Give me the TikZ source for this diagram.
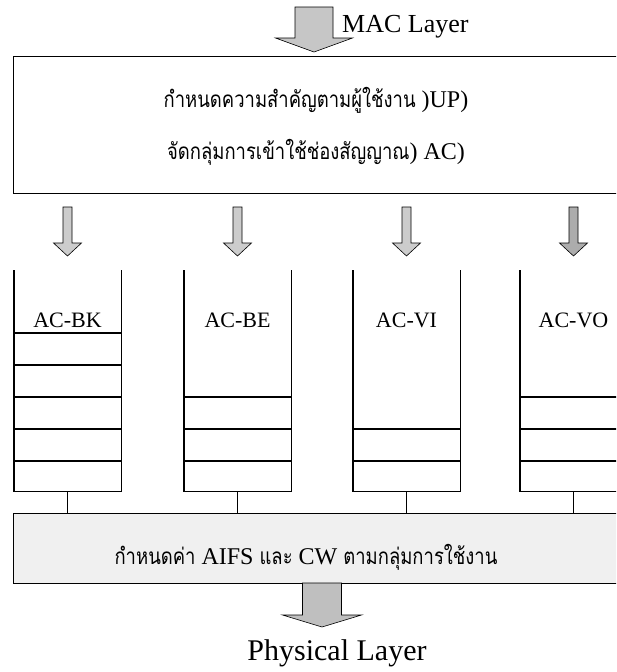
\documentclass[tikz,border=0pt]{standalone}
\usepackage{fontspec}
\setmainfont{Liberation Serif}
\newfontfamily\thaifont[Script=Thai,FakeStretch=0.82]{Loma}
\newcommand\thtxt[1]{{\fontsize{22.5}{24}\selectfont\thaifont #1}}
\newcommand\blkarrow[7]{% cx, ytop, shaft half-width, head half-width, yhead, ytip, fill
  \filldraw[blk, fill=#7] (#1-#3,#2) -- (#1+#3,#2) -- (#1+#3,#5) -- (#1+#4,#5) -- (#1,#6) -- (#1-#4,#5) -- (#1-#3,#5) -- cycle;}
\begin{document}
\begin{tikzpicture}[x=1pt,y=-1pt,
  frame/.style={line width=1.4pt},
  blk/.style={draw=black, line width=0.6pt},
  lbl/.style={font=\fontsize{22}{24}\selectfont, inner sep=0pt},
  thaitxt/.style={font=\fontsize{24}{26}\selectfont, inner sep=0pt},
]
\clip (0,0) rectangle (616,672);
\fill[white] (0,0) rectangle (616,672);

% top arrow and label
\blkarrow{314}{7}{19}{38.5}{38}{52}{gray!45}
\node[anchor=base west, font=\fontsize{26}{28}\selectfont, inner sep=0pt] (mac) at (342,32) {MAC Layer};

% top box
\node[draw, frame, anchor=north west, minimum width=612pt, minimum height=137pt, inner sep=0pt] (upbox) at (13,56) {};
\node[thaitxt] (up) at (316,100) {\thtxt{กำหนดความสำคัญตามผู้ใช้งาน} )UP)};
\node[thaitxt] (ac) at (316,152) {\thtxt{จัดกลุ่มการเข้าใช้ช่องสัญญาณ}) AC)};

% bottom box
\node[draw, frame, fill=gray!12, anchor=north west, minimum width=612pt, minimum height=70pt, inner sep=0pt] (bus) at (13,513) {};
\node[thaitxt] (bustxt) at (306,557) {\thtxt{กำหนดค่า} AIFS \thtxt{และ} CW \thtxt{ตามกลุ่มการใช้งาน}};

% queues
\foreach \n/\cx/\lab/\fc/\lines in {1/67.5/AC-BK/gray!40/{333,365,397,429,461},
                                    2/237.5/AC-BE/gray!40/{397,429,461},
                                    3/406.5/AC-VI/gray!40/{429,461},
                                    4/573.5/AC-VO/gray!65/{397,429,461}} {
  \blkarrow{\cx}{207}{4.5}{14}{243}{256}{\fc}
  \node[minimum width=107pt, minimum height=221pt, inner sep=0pt, anchor=north] (q\n) at (\cx,270) {};
  \draw[frame] (q\n.north west) -- (q\n.south west) -- (q\n.south east) -- (q\n.north east);
  \foreach \yy in \lines {
    \draw[frame] (\cx-53.5,\yy) -- (\cx+53.5,\yy);
  }
  \node[lbl, anchor=base] (l\n) at (\cx,327) {\lab};
  \draw[frame] (q\n.south) -- (q\n.south |- bus.north);
}

% bottom arrow
\blkarrow{322}{583}{19.5}{39.5}{615}{627}{gray!50}
\node[anchor=base, font=\fontsize{30}{32}\selectfont, inner sep=0pt] (phy) at (337,660) {Physical Layer};
\end{tikzpicture}
\end{document}
